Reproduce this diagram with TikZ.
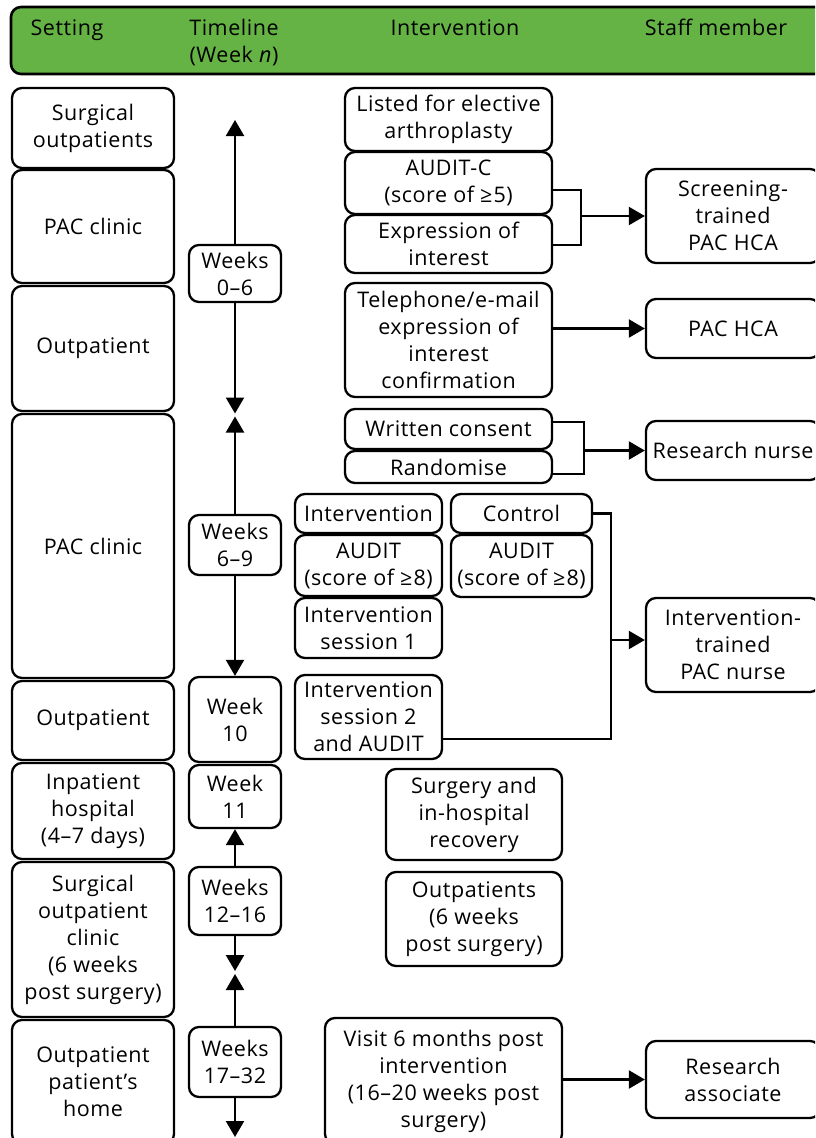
\documentclass[tikz,border=0pt]{standalone}
\usepackage{fontspec}
\setmainfont[LetterSpace=2.5]{Open Sans}
\usetikzlibrary{arrows.meta}
\definecolor{hdrgreen}{RGB}{101,179,69}
\tikzset{
  box/.style={draw, line width=2.3pt, rounded corners=10pt, align=center, inner sep=0pt, fill=white},
  hdrtext/.style={anchor=base, inner sep=0pt},
  link/.style={line width=2.2pt},
  arr/.style={line width=2.2pt, -{Triangle[length=16pt,width=18pt]}},
}
\begin{document}
\begin{tikzpicture}[x=1pt,y=-1pt,font=\fontsize{21.5}{27}\selectfont]
\useasboundingbox (0,0) rectangle (815,1138);
\clip (0,0) rectangle (815,1138);
% header
\node[draw, line width=2.6pt, rounded corners=10pt, fill=hdrgreen, minimum width=820pt, minimum height=67pt, inner sep=0pt] (hdr) at (421,40.5) {};
\node[hdrtext] (hset) at (67,35) {Setting};
\node[hdrtext] (htime) at (234,35) {Timeline};
\node[hdrtext] (hweek) at (234,62) {(Week \textit{n})};
\node[hdrtext] (hint) at (455,35) {Intervention};
\node[hdrtext] (hstaff) at (716,35) {Staff member};
% setting column
\node[box, minimum width=162pt, minimum height=80pt] (s1) at (93,128) {Surgical\\outpatients};
\node[box, minimum width=162pt, minimum height=113pt] (s2) at (93,226.5) {PAC clinic};
\node[box, minimum width=162pt, minimum height=125pt] (s3) at (93,348.5) {Outpatient};
\node[box, minimum width=162pt, minimum height=264pt] (s4) at (93,546) {PAC clinic};
\node[box, minimum width=162pt, minimum height=79pt] (s5) at (93,720.5) {Outpatient};
\node[box, minimum width=162pt, minimum height=96pt] (s6) at (93,811) {Inpatient\\hospital\\(4–7 days)};
\node[box, minimum width=162pt, minimum height=155pt] (s7) at (93,939.5) {Surgical\\outpatient\\clinic\\(6 weeks\\post surgery)};
\node[box, minimum width=162pt, minimum height=124pt] (s8) at (93,1082) {Outpatient\\patient’s\\home};
% timeline column
\node[box, minimum width=92pt, minimum height=57pt] (t1) at (235,273.5) {Weeks\\0–6};
\node[box, minimum width=92pt, minimum height=60pt] (t2) at (235,545) {Weeks\\6–9};
\node[box, minimum width=92pt, minimum height=85pt] (t3) at (235,719.5) {Week\\10};
\node[box, minimum width=92pt, minimum height=63pt] (t4) at (235,796.5) {Week\\11};
\node[box, minimum width=92pt, minimum height=68pt] (t5) at (235,901) {Weeks\\12–16};
\node[box, minimum width=92pt, minimum height=70pt] (t6) at (235,1062) {Weeks\\17–32};
\coordinate (ta) at (235,120);
\coordinate (tb1) at (235,413.5);
\coordinate (tb2) at (235,416.5);
\coordinate (tc1) at (235,971);
\coordinate (tc2) at (235,974);
\coordinate (td) at (235,1137);
\draw[arr] (t1.north) -- (ta);
\draw[arr] (t1.south) -- (tb1);
\draw[arr] (t2.north) -- (tb2);
\draw[arr] (t2.south) -- (t3.north);
\draw[arr] (t5.north) -- (t4.south);
\draw[arr] (t5.south) -- (tc1);
\draw[arr] (t6.north) -- (tc2);
\draw[arr] (t6.south) -- (td);
% intervention column
\node[box, minimum width=207pt, minimum height=63pt] (i1) at (448.5,119.5) {Listed for elective\\arthroplasty};
\node[box, minimum width=207pt, minimum height=62pt] (i2) at (448.5,183) {AUDIT-C\\(score of ≥\kern1pt5)};
\node[box, minimum width=207pt, minimum height=58pt] (i3) at (448.5,244) {Expression of\\interest};
\node[box, minimum width=207pt, minimum height=114pt] (i4) at (448.5,340) {Telephone/e-mail\\expression of\\interest\\confirmation};
\node[box, minimum width=207pt, minimum height=40pt] (i5) at (448.5,429) {Written consent};
\node[box, minimum width=207pt, minimum height=32pt] (i6) at (448.5,467) {Randomise};
\node[box, minimum width=147pt, minimum height=39pt] (i7) at (368.5,513.5) {Intervention};
\node[box, minimum width=141pt, minimum height=39pt] (i8) at (521.5,513.5) {Control};
\node[box, minimum width=147pt, minimum height=61pt] (i9) at (368.5,565.5) {AUDIT\\(score of ≥\kern1pt8)};
\node[box, minimum width=141pt, minimum height=62pt] (i10) at (521.5,566) {AUDIT\\(score of ≥\kern1pt8)};
\node[box, minimum width=147pt, minimum height=60pt] (i11) at (368.5,628) {Intervention\\session 1};
\node[box, minimum width=147pt, minimum height=84pt] (i12) at (368.5,717) {Intervention\\session 2\\and AUDIT};
\node[box, minimum width=176pt, minimum height=91pt] (i13) at (474,814.5) {Surgery and\\in-hospital\\recovery};
\node[box, minimum width=176pt, minimum height=94pt] (i14) at (474,919) {Outpatients\\(6 weeks\\post surgery)};
\node[box, minimum width=237pt, minimum height=126pt] (i15) at (443.5,1081) {Visit 6 months post\\intervention\\(16–20 weeks post\\surgery)};
% staff column
\node[box, minimum width=174pt, minimum height=94pt] (f1) at (733,216) {Screening-\\trained\\PAC HCA};
\node[box, minimum width=174pt, minimum height=59pt] (f2) at (733,328.5) {PAC HCA};
\node[box, minimum width=174pt, minimum height=59pt] (f3) at (733,450.5) {Research nurse};
\node[box, minimum width=174pt, minimum height=94pt] (f4) at (733,645) {Intervention-\\trained\\PAC nurse};
\node[box, minimum width=174pt, minimum height=77pt] (f5) at (733,1079.5) {Research\\associate};
% connectors
\coordinate (b1) at (581,216);
\draw[link] (i2.east |- 0,190) -| (b1) |- (i3.east |- 0,245);
\draw[arr] (b1) -- (f1.west);
\draw[arr] (i4.east |- f2) -- (f2.west);
\coordinate (b2) at (584,450.5);
\draw[link] (i5.east |- 0,422) -| (b2) |- (i6.east |- 0,474);
\draw[arr] (b2) -- (f3.west);
\coordinate (b3) at (611,640);
\draw[link] (i8.east) -| (b3) |- (i12.east |- 0,739);
\draw[arr] (b3) -- (f4.west |- b3);
\draw[arr] (i15.east |- f5) -- (f5.west);
\end{tikzpicture}
\end{document}
